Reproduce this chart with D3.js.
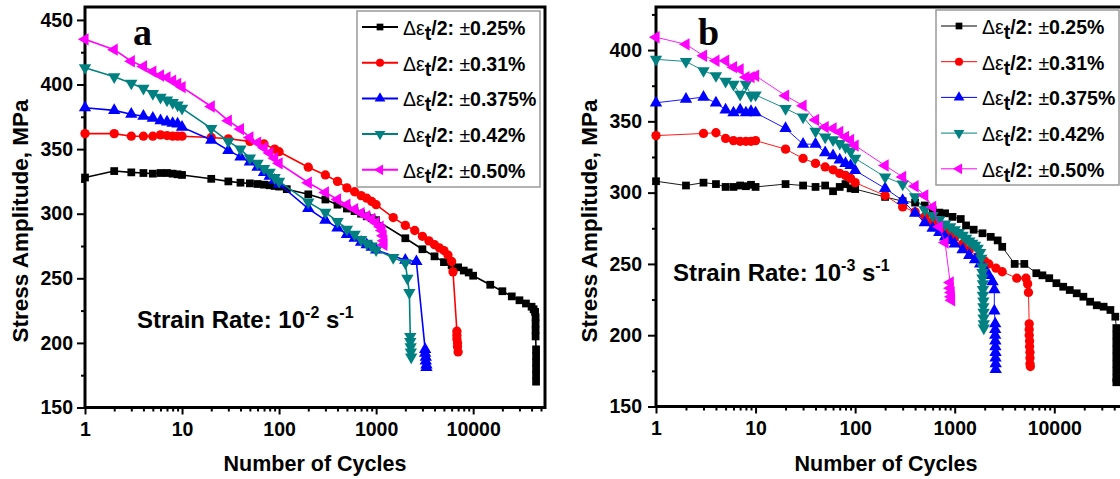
<!DOCTYPE html>
<html>
<head>
<meta charset="utf-8">
<title>Stress amplitude vs number of cycles</title>
<script src="https://d3js.org/d3.v7.min.js"></script>
<style>
  body { margin: 0; background: #fff; }
  svg text { font-family: "Liberation Sans", Arial, sans-serif; font-weight: bold; fill: #000; }
  .letter { font-family: "Liberation Serif", "Times New Roman", serif; }
</style>
</head>
<body>
<svg id="chart" width="1120" height="479"></svg>
<script>

// ---- data: [cycles, stress amplitude MPa] ----

// panel a, strain rate 1e-2 /s
var a025 = [[1,328],[2,333],[3,332],[4,331.5],[5,331],[6,331.5],[7,331.5],[8,331],[9,330.5],[10,330],
    [20,327],[30,325],[40,324],[50,323.5],[60,323],[70,322.5],[80,322],[90,321.5],[100,321],[120,319],
    [200,315],[300,311],[400,307],[500,304],[600,302],[700,300],[800,298],[900,296.5],[1000,295],
    [2000,281],[3000,272.5],[4000,267],[5000,262.5],[6000,260],[7000,258.5],[8000,256],[9000,254.5],
    [10000,252],[15000,245],[20000,240],[25000,236],[30000,233],[35000,230.5],[40000,228],[42000,226],
    [43500,224],[44000,220],[44000,215],[44000,210],[44000,205],[44500,195],[44500,190],[44500,185],
    [44500,180],[44500,175],[44500,170]];
var a031 = [[1,362],[2,362],[3,360],[4,360],[5,360],[6,361],[7,360.5],[8,360],[9,360],[10,360],
    [20,359],[30,358],[50,356],[70,354],[90,350],[100,348],[200,336],[300,330],[400,325],[500,320],
    [600,317],[700,314],[800,312],[900,309.5],[1000,307],[1500,297],[2000,291],[2500,287],[3000,282.5],
    [3500,279],[4000,276],[4500,273.5],[5000,271.5],[5500,268],[6000,263],[6200,255],[6800,209],
    [6800,206],[6800,203],[6900,200],[6900,197],[7000,193]];
var a0375 = [[1,382],[2,380],[3,377],[4,375.5],[5,374],[6,372],[7,371],[8,370],[9,369.5],[10,367],
    [20,357],[30,349],[40,344],[50,340],[60,336],[70,332],[80,329],[90,326],[100,323],[200,304],
    [300,295],[400,289],[500,284],[600,281],[700,278],[800,276],[900,274],[1000,272],[2000,264],
    [2600,263],[3200,195],[3200,192],[3250,189],[3250,186],[3300,183],[3300,181]];
var a042 = [[1,413],[2,406],[3,401],[4,397],[5,393],[6,390],[7,388],[8,386],[9,384],[10,381.5],
    [20,366],[30,356],[40,350],[50,343],[60,339],[70,335],[80,332],[90,328],[100,325],[200,309],
    [300,301],[400,294],[500,288],[600,284],[700,280],[800,277],[900,275],[1000,272],[1500,266],
    [2000,262],[2100,250],[2200,239],[2250,205],[2250,201],[2270,197],[2280,193],[2300,189]];
var a050 = [[1,435],[2,427],[3,418],[4,414],[5,410],[6,407],[7,405.5],[8,403],[9,400.5],[10,398],
    [20,383],[30,372],[40,365.5],[50,359],[60,355],[70,351],[80,347],[90,343],[100,339],[200,324],
    [300,316.5],[400,311],[500,307],[600,303.5],[700,300.5],[800,298],[900,296],[1000,293],
    [1100,290],[1150,287],[1180,283],[1200,279],[1200,276]];

// panel b, strain rate 1e-3 /s
var b025 = [[1,308],[2,305],[3,307],[4,306],[5,304],[6,304],[7,305],[8,304.5],[9,305.5],[10,304],
    [20,306],[30,305],[40,304],[50,305],[60,301],[70,304],[80,306],[90,303],[100,302.5],[200,297],
    [300,294],[400,293],[500,291],[600,288],[700,286],[800,285.5],[950,283],[1150,281.5],[1300,277],
    [1550,274],[1900,271.5],[2300,269],[2700,266.5],[3000,262],[4000,250],[5000,250],[6600,243.5],
    [7600,242],[8900,240],[10500,236.5],[12300,234],[14300,231.7],[16800,229.4],[19600,227],
    [22900,223.5],[26700,221],[31300,220],[36600,217.7],[41000,213],[42000,205],[42000,200],
    [42000,195],[42000,190],[42000,185],[42000,180],[42000,175],[42000,170],[42000,167]];
var b031 = [[1,340],[3,341.5],[4,342],[5,338],[6,336.5],[7,336],[8,336],[9,336],[10,336.5],
    [20,330.5],[30,324],[40,320.5],[50,318],[60,316],[70,313.5],[80,312],[90,310],[100,307],
    [200,298],[300,290],[400,286.5],[500,283],[600,280],[700,277],[800,274],[900,271],[1000,268.5],
    [1200,264],[1400,260],[1700,255],[2000,252],[2200,250],[2600,247],[3000,244.5],[4200,240],
    [5200,240],[5400,236],[5500,230],[5600,208],[5600,204],[5600,200],[5650,196],[5650,192],
    [5700,188],[5700,184],[5700,180],[5750,178]];
var b0375 = [[1,363],[2,365.5],[3,367],[4,363],[5,358],[6,356],[7,358],[8,356],[9,357],[10,356],
    [20,345],[30,334],[40,334],[50,328],[60,326],[70,323],[80,320.5],[90,319],[100,315.5],[200,303],
    [300,294.5],[400,285.5],[500,279],[600,275],[700,272],[800,269],[900,266.5],[1000,264],
    [1200,260],[1400,256],[1600,253],[1800,250],[2000,246.5],[2200,242],[2400,237.5],[2500,232],
    [2500,217],[2550,208],[2550,204],[2550,200],[2560,196],[2560,192],[2570,188],[2570,184],
    [2580,180],[2580,176]];
var b042 = [[1,393.5],[2,392],[3,385.5],[4,382],[5,378],[6,376],[7,369],[8,376],[9,368],[10,368.5],
    [20,359],[30,353],[40,343],[50,339],[60,337],[70,334.5],[80,332],[90,329],[100,324],[200,311],
    [300,306],[400,297],[500,288],[600,284],[700,281],[800,278],[900,276],[1000,274],[1100,272],
    [1200,270],[1300,268],[1400,266],[1500,264.5],[1600,263],[1700,261],[1800,258],[1850,254],
    [1900,248],[1900,244],[1900,240],[1920,236],[1920,232],[1920,228],[1940,224],[1940,220],
    [1950,216],[1950,212],[1960,208],[1960,205]];
var b050 = [[1,409],[2,404],[3,396],[4,392.5],[5,392.5],[6,388],[7,386.5],[8,381],[9,381],[10,382],
    [20,368],[30,361],[40,351],[50,346],[60,345],[70,342.5],[80,339],[90,337],[100,333],[200,319],
    [300,311],[400,304.5],[500,298],[600,290],[700,276],[800,265],[900,237],[900,233],[920,230],
    [920,227],[930,224.5]];

var amplitudes = ["0.25%", "0.31%", "0.375%", "0.42%", "0.50%"];
var colors = ["#000000", "#ff0000", "#0000ff", "#008080", "#ff00ff"];
var xTickValues = [1, 10, 100, 1000, 10000];
var yTicksA = [150, 200, 250, 300, 350, 400, 450];
var yTicksB = [150, 200, 250, 300, 350, 400];

var svg = d3.select("#chart");

// marker shape per series: square, circle, up, down, left
var shapes = [
    { type: d3.symbolSquare, size: 60, rot: 0 },
    { type: d3.symbolCircle, size: 68, rot: 0 },
    { type: d3.symbolTriangle, size: 66, rot: 0 },
    { type: d3.symbolTriangle, size: 66, rot: 180 },
    { type: d3.symbolTriangle, size: 66, rot: -90 }
];

function drawPanel(cfg) {
    var x = d3.scaleLog().domain([1, 55000]).range([cfg.left, cfg.right]);
    var y = d3.scaleLinear().domain(cfg.yDomain).range([cfg.bottom, cfg.top]);
    var g = svg.append("g");

    // minor ticks
    var minorX = [];
    [1, 10, 100, 1000, 10000].forEach(function(dec) {
        for (var k = 2; k <= 9; k++) if (dec * k < 55000) minorX.push(dec * k);
    });
    var minorY = d3.range(cfg.yDomain[0] + 25, cfg.yDomain[1], 50);

    g.append("g").attr("transform", "translate(0," + cfg.bottom + ")")
        .call(d3.axisBottom(x).tickValues(minorX).tickSize(4).tickFormat(""))
        .call(function(s) { s.select(".domain").remove(); s.selectAll("line").attr("stroke-width", 2); });
    g.append("g").attr("transform", "translate(" + cfg.left + ",0)")
        .call(d3.axisLeft(y).tickValues(minorY).tickSize(4).tickFormat(""))
        .call(function(s) { s.select(".domain").remove(); s.selectAll("line").attr("stroke-width", 2); });

    // major ticks and labels
    g.append("g").attr("transform", "translate(0," + cfg.bottom + ")")
        .call(d3.axisBottom(x).tickValues(xTickValues).tickFormat(d3.format("d")).tickSize(7).tickPadding(8))
        .call(function(s) {
            s.select(".domain").remove();
            s.selectAll("line").attr("stroke-width", 2);
            s.selectAll("text").attr("font-size", 19.5).attr("font-family", null);
        });
    g.append("g").attr("transform", "translate(" + cfg.left + ",0)")
        .call(d3.axisLeft(y).tickValues(cfg.yTicks).tickSize(8).tickPadding(cfg.yPad))
        .call(function(s) {
            s.select(".domain").remove();
            s.selectAll("line").attr("stroke-width", 2);
            s.selectAll("text").attr("font-size", 19.5).attr("font-family", null);
        });

    // frame
    g.append("rect")
        .attr("x", cfg.left).attr("y", cfg.top)
        .attr("width", cfg.right - cfg.left).attr("height", cfg.bottom - cfg.top)
        .attr("fill", "none").attr("stroke", "#000").attr("stroke-width", 3);

    // data
    var line = d3.line().x(function(d) { return x(d[0]); }).y(function(d) { return y(d[1]); });
    cfg.series.forEach(function(data, i) {
        g.append("path").datum(data)
            .attr("d", line)
            .attr("fill", "none")
            .attr("stroke", colors[i])
            .attr("stroke-width", cfg.lineWidth);
        var sym = d3.symbol().type(shapes[i].type).size(shapes[i].size);
        g.selectAll(".m" + i).data(data).enter().append("path")
            .attr("class", "m" + i)
            .attr("d", sym)
            .attr("fill", colors[i])
            .attr("transform", function(d) {
                return "translate(" + x(d[0]) + "," + y(d[1]) + ") rotate(" + shapes[i].rot + ")";
            });
    });

    // axis titles
    g.append("text")
        .attr("x", (cfg.left + cfg.right) / 2 - cfg.titleShift).attr("y", 471)
        .attr("text-anchor", "middle").attr("font-size", 21.5)
        .text("Number of Cycles");
    g.append("text")
        .attr("transform", "translate(" + cfg.yTitleX + ",221) rotate(-90)")
        .attr("text-anchor", "middle").attr("font-size", 22.5)
        .text("Stress Amplitude, MPa");

    // panel letter
    g.append("text").attr("class", "letter")
        .attr("x", cfg.letterX).attr("y", 45).attr("font-size", 38)
        .text(cfg.letter);

    // strain rate note
    var note = g.append("text").attr("x", cfg.noteX).attr("y", cfg.noteY).attr("font-size", 24);
    note.append("tspan").text("Strain Rate: 10");
    note.append("tspan").attr("dy", -10).attr("font-size", 16).text(cfg.exponent);
    note.append("tspan").attr("dy", 10).text(" s");
    note.append("tspan").attr("dy", -10).attr("font-size", 16).text("-1");

    // legend
    var lg = g.append("g");
    lg.append("rect")
        .attr("x", cfg.legX).attr("y", cfg.legY)
        .attr("width", cfg.legW).attr("height", cfg.legH)
        .attr("fill", "#fff").attr("stroke", "#999").attr("stroke-width", 1.5);
    amplitudes.forEach(function(lab, i) {
        var cy = cfg.legY + 16 + i * 35.7;
        var lx = cfg.legX + 5;
        lg.append("line")
            .attr("x1", lx).attr("x2", lx + 36).attr("y1", cy).attr("y2", cy)
            .attr("stroke", colors[i]).attr("stroke-width", cfg.legLine);
        var sym = d3.symbol().type(shapes[i].type).size(shapes[i].size * 0.75);
        lg.append("path").attr("d", sym).attr("fill", colors[i])
            .attr("transform", "translate(" + (lx + 18) + "," + cy + ") rotate(" + shapes[i].rot + ")");
        var t = lg.append("text").attr("x", lx + 41).attr("y", cy + 8).attr("font-size", 19.5);
        t.append("tspan").attr("font-weight", "normal").text("\u0394\u03b5");
        t.append("tspan").attr("dy", 5).text("t");
        t.append("tspan").attr("dy", -5).text("/2: ");
        t.append("tspan").attr("font-weight", "normal").text("\u00b1");
        t.append("tspan").text(lab);
    });
}

drawPanel({
    left: 85, right: 545, top: 7, bottom: 407.5,
    yDomain: [150, 460], yTicks: yTicksA, yPad: 4,
    series: [a025, a031, a0375, a042, a050], lineWidth: 1.6,
    yTitleX: 28, titleShift: 0,
    letter: "a", letterX: 133,
    noteX: 137, noteY: 328, exponent: "-2",
    legX: 357, legY: 11, legW: 183, legH: 176, legLine: 2
});

drawPanel({
    left: 656, right: 1128, top: 7, bottom: 406.5,
    yDomain: [150, 430.2], yTicks: yTicksB, yPad: 6,
    series: [b025, b031, b0375, b042, b050], lineWidth: 0.9,
    yTitleX: 597, titleShift: 6,
    letter: "b", letterX: 698,
    noteX: 673, noteY: 281, exponent: "-3",
    legX: 936, legY: 10, legW: 183, legH: 175, legLine: 1
});

</script>
</body>
</html>
